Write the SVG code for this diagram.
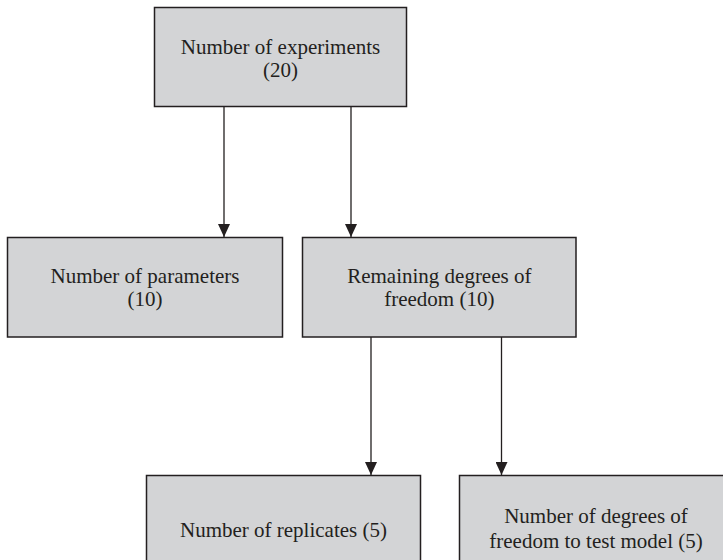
<svg xmlns="http://www.w3.org/2000/svg" width="723" height="560" viewBox="0 0 723 560">
  <style>
    .box { fill: #d3d4d6; stroke: #231f20; stroke-width: 1.5; }
    .label { font-family: "Liberation Serif", "Times New Roman", serif; font-size: 21px; fill: #231f20; text-anchor: middle; }
    .link { stroke: #231f20; stroke-width: 1.3; fill: none; marker-end: url(#arrow); }
  </style>
  <defs>
    <marker id="arrow" markerWidth="14" markerHeight="12" refX="13" refY="6" orient="auto" markerUnits="userSpaceOnUse">
      <path d="M0,0 L13,6 L0,12 Z" fill="#231f20"/>
    </marker>
  </defs>
  <rect width="723" height="560" fill="#ffffff"/>

  <g id="connectors">
    <line class="link" x1="224" y1="107" x2="224" y2="237"/>
    <line class="link" x1="351" y1="107" x2="351" y2="237"/>
    <line class="link" x1="371" y1="337" x2="371" y2="475"/>
    <line class="link" x1="501.5" y1="337" x2="501.5" y2="475"/>
  </g>

  <g id="experiments">
    <rect class="box" x="154.5" y="7.5" width="252" height="99"/>
    <text class="label" x="280.5" y="54">Number of experiments</text>
    <text class="label" x="280.5" y="77">(20)</text>
  </g>

  <g id="parameters">
    <rect class="box" x="7.5" y="237.5" width="275" height="99.5"/>
    <text class="label" x="145" y="283">Number of parameters</text>
    <text class="label" x="145" y="306">(10)</text>
  </g>

  <g id="remaining">
    <rect class="box" x="302.5" y="237.5" width="273.5" height="99.5"/>
    <text class="label" x="439.3" y="283">Remaining degrees of</text>
    <text class="label" x="439.3" y="306">freedom (10)</text>
  </g>

  <g id="replicates">
    <rect class="box" x="146.5" y="475.5" width="274" height="100"/>
    <text class="label" x="283.5" y="537">Number of replicates (5)</text>
  </g>

  <g id="test-model">
    <rect class="box" x="459.5" y="475.5" width="274" height="100"/>
    <text class="label" x="596" y="523">Number of degrees of</text>
    <text class="label" x="596" y="548">freedom to test model (5)</text>
  </g>
</svg>
